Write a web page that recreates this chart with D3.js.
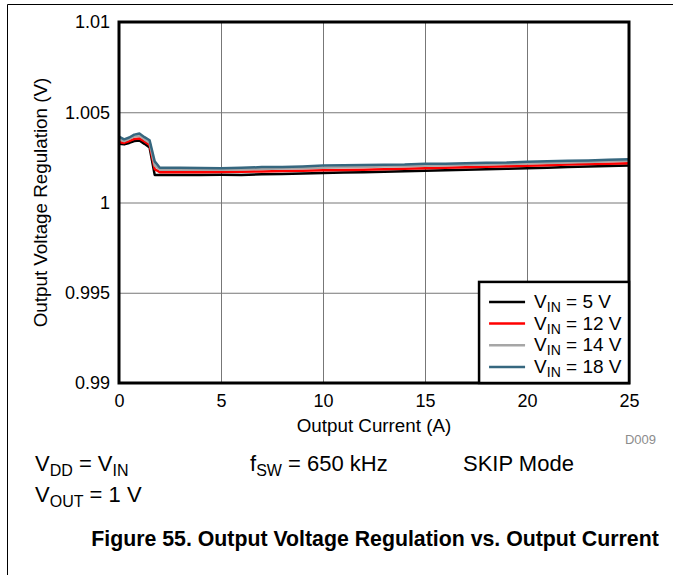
<!DOCTYPE html>
<html>
<head>
<meta charset="utf-8">
<script src="https://cdn.jsdelivr.net/npm/d3@7"></script>
<style>
  body { margin: 0; background: #fff; }
  text { font-family: "Liberation Sans", Arial, sans-serif; }
</style>
</head>
<body>
<div id="chart"></div>
<script>
var svgWidth = 673;
var svgHeight = 575;

var margin = { top: 22, right: 44, bottom: 192, left: 119 };
var width = svgWidth - margin.left - margin.right;
var height = svgHeight - margin.top - margin.bottom;

// Data
var current = [0, 0.25, 0.5, 0.75, 1.0, 1.25, 1.5, 1.75, 2, 3, 4, 5, 6, 7, 8, 9, 10, 11, 12, 13, 14, 15, 16, 17, 18, 19, 20, 21, 22, 23, 24, 25];
var vin5 = [1.00325, 1.00322, 1.00330, 1.00340, 1.00344, 1.00325, 1.00305, 1.00153, 1.00152, 1.00152, 1.00153, 1.00154, 1.00153, 1.00156, 1.00158, 1.00160, 1.00163, 1.00166, 1.00168, 1.00170, 1.00173, 1.00176, 1.00178, 1.00181, 1.00184, 1.00187, 1.00190, 1.00193, 1.00196, 1.00199, 1.00202, 1.00205];
var vin12 = [1.00335, 1.00330, 1.00340, 1.00352, 1.00355, 1.00338, 1.00318, 1.00185, 1.00168, 1.00168, 1.00168, 1.00169, 1.00170, 1.00172, 1.00174, 1.00176, 1.00178, 1.00180, 1.00182, 1.00184, 1.00187, 1.00190, 1.00192, 1.00195, 1.00198, 1.00201, 1.00204, 1.00207, 1.00210, 1.00213, 1.00215, 1.00218];
var vin14 = [1.00350, 1.00340, 1.00352, 1.00366, 1.00370, 1.00350, 1.00332, 1.00205, 1.00182, 1.00182, 1.00181, 1.00181, 1.00183, 1.00186, 1.00188, 1.00190, 1.00193, 1.00195, 1.00197, 1.00199, 1.00201, 1.00204, 1.00206, 1.00209, 1.00211, 1.00213, 1.00216, 1.00219, 1.00222, 1.00225, 1.00228, 1.00231];
var vin18 = [1.00365, 1.00350, 1.00360, 1.00376, 1.00382, 1.00362, 1.00345, 1.00228, 1.00193, 1.00192, 1.00191, 1.00190, 1.00192, 1.00196, 1.00197, 1.00200, 1.00205, 1.00207, 1.00208, 1.00209, 1.00210, 1.00214, 1.00215, 1.00218, 1.00220, 1.00221, 1.00226, 1.00228, 1.00231, 1.00233, 1.00237, 1.00240];

var seriesNames = ["5", "12", "14", "18"];
var seriesColors = ["#000000", "#ff0000", "#a6a6a6", "#36677f"];
var seriesValues = [vin5, vin12, vin14, vin18];

var xTicks = [0, 5, 10, 15, 20, 25];
var yTicks = [0.99, 0.995, 1, 1.005, 1.01];
var yTickLabels = ["0.99", "0.995", "1", "1.005", "1.01"];

var svg = d3.select("#chart")
    .append("svg")
    .attr("width", svgWidth)
    .attr("height", svgHeight);

// outer frame (top and left edges)
svg.append("line").attr("x1", 7.5).attr("x2", svgWidth).attr("y1", 4.5).attr("y2", 4.5)
    .attr("stroke", "#000").attr("stroke-width", 1);
svg.append("line").attr("x1", 7.5).attr("x2", 7.5).attr("y1", 4.5).attr("y2", svgHeight)
    .attr("stroke", "#000").attr("stroke-width", 1);

var chartgroup = svg.append("g")
    .attr("transform", `translate(${margin.left}, ${margin.top})`);

var x = d3.scaleLinear().domain([0, 25]).range([0, width]);
var y = d3.scaleLinear().domain([0.99, 1.01]).range([height, 0]);

// gridlines
chartgroup.append("g")
    .call(d3.axisBottom(x).tickValues(xTicks).tickSize(height).tickFormat(""))
    .call(g => g.select(".domain").remove())
    .call(g => g.selectAll("line").attr("stroke", "#777").attr("stroke-width", 1));

chartgroup.append("g")
    .call(d3.axisLeft(y).tickValues(yTicks).tickSize(-width).tickFormat(""))
    .call(g => g.select(".domain").remove())
    .call(g => g.selectAll("line").attr("stroke", "#777").attr("stroke-width", 1));

// tick labels
chartgroup.append("g")
    .attr("transform", `translate(0, ${height})`)
    .call(d3.axisBottom(x).tickValues(xTicks).tickSize(0).tickPadding(11))
    .call(g => g.select(".domain").remove())
    .call(g => g.selectAll("text").attr("font-size", "18px").attr("fill", "#000")
        .style("font-family", "'Liberation Sans', Arial, sans-serif"));

chartgroup.append("g")
    .call(d3.axisLeft(y).tickValues(yTicks).tickSize(0).tickPadding(9)
        .tickFormat((d, i) => yTickLabels[i]))
    .call(g => g.select(".domain").remove())
    .call(g => g.selectAll("text").attr("font-size", "18px").attr("fill", "#000")
        .style("font-family", "'Liberation Sans', Arial, sans-serif"));

// lines
var line = d3.line()
    .x((d, i) => x(current[i]))
    .y(d => y(d));

seriesValues.forEach(function(vals, k) {
    chartgroup.append("path")
        .datum(vals)
        .attr("fill", "none")
        .attr("stroke", seriesColors[k])
        .attr("stroke-width", 2.5)
        .attr("stroke-linejoin", "round")
        .attr("d", line);
});

// plot border
chartgroup.append("rect")
    .attr("width", width).attr("height", height)
    .attr("fill", "none").attr("stroke", "#000").attr("stroke-width", 3);

// legend
var legend = chartgroup.append("g")
    .attr("transform", `translate(${x(17.65)}, ${y(0.9956)})`);
var legW = width - x(17.65);
var legH = height - y(0.9956);
legend.append("rect")
    .attr("width", legW).attr("height", legH)
    .attr("fill", "#fff").attr("stroke", "#000").attr("stroke-width", 2.5);

seriesNames.forEach(function(name, k) {
    var row = legend.append("g").attr("transform", `translate(0, ${20 + k * 21.7})`);
    row.append("line").attr("x1", 10).attr("x2", 46).attr("y1", 0).attr("y2", 0)
        .attr("stroke", seriesColors[k]).attr("stroke-width", 2.5);
    var t = row.append("text").attr("x", 55).attr("y", 6).attr("font-size", "19px");
    t.append("tspan").text("V");
    t.append("tspan").attr("font-size", "14px").attr("dy", 4).text("IN");
    t.append("tspan").attr("dy", -4).text(" = " + name + " V");
});

// axis titles
chartgroup.append("text")
    .attr("x", width / 2).attr("y", height + 49)
    .attr("text-anchor", "middle").attr("font-size", "18.8px")
    .text("Output Current (A)");

chartgroup.append("text")
    .attr("transform", `translate(${-72}, ${height / 2}) rotate(-90)`)
    .attr("text-anchor", "middle").attr("font-size", "18.8px")
    .text("Output Voltage Regulation (V)");

chartgroup.append("text")
    .attr("x", width + 27).attr("y", height + 61)
    .attr("text-anchor", "end").attr("font-size", "13px").attr("fill", "#8c8c8c")
    .text("D009");

// conditions
function subText(px, py, parts) {
    var t = svg.append("text").attr("x", px).attr("y", py).attr("font-size", "22px");
    var shift = 0;
    parts.forEach(function(p) {
        var s = t.append("tspan").text(p[0]);
        if (p[1]) {
            s.attr("font-size", "16px").attr("dy", 5 - shift);
            shift = 5;
        } else {
            s.attr("dy", -shift);
            shift = 0;
        }
    });
}
subText(35, 471, [["V"], ["DD", true], [" = V"], ["IN", true]]);
subText(250, 471, [["f"], ["SW", true], [" = 650 kHz"]]);
subText(463, 471, [["SKIP Mode"]]);
subText(35, 502, [["V"], ["OUT", true], [" = 1 V"]]);

svg.append("text")
    .attr("x", 375).attr("y", 546)
    .attr("text-anchor", "middle").attr("font-size", "21.3px").attr("font-weight", "bold")
    .text("Figure 55. Output Voltage Regulation vs. Output Current");
</script>
</body>
</html>
